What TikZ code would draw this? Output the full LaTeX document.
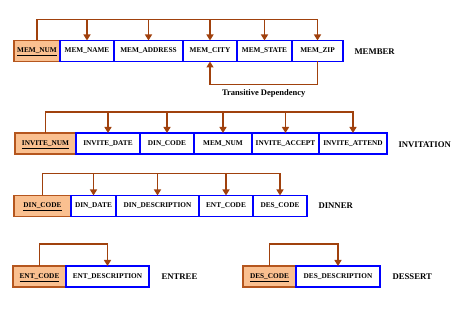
\documentclass[tikz,border=0pt]{standalone}
\usepackage{fontspec}
\setmainfont{Liberation Serif}
\usetikzlibrary{arrows.meta,positioning}
\definecolor{keyfill}{HTML}{FAC090}
\definecolor{keyline}{HTML}{B5561E}
\definecolor{fdline}{HTML}{A0410D}
\definecolor{attrline}{HTML}{0000FF}
\newcommand{\keyname}[1]{\setbox0\hbox{#1}\rlap{\smash{\rule[-3.5pt]{\wd0}{1.2pt}}}\box0}

\begin{document}
\begin{tikzpicture}[x=1pt, y=1pt, >={Triangle[width=7pt,length=6pt]}, font=\fontsize{7.3}{8}\selectfont\bfseries, attr/.style={rectangle, draw=attrline, line width=1.1pt, fill=white, minimum height=21pt, inner sep=1pt, outer sep=0pt}, key/.style={attr, draw=keyline, fill=keyfill}, fd/.style={->, draw=fdline, line width=1.4pt}, tbl/.style={font=\fontsize{8.7}{10}\selectfont\bfseries, right=7pt}]
\useasboundingbox (0,0) rectangle (474,312);
% MEMBER
\node[key, minimum width=46pt] (memnum) at (37,261) {\keyname{MEM\_NUM}};
\node[attr, minimum width=54pt, right=0pt of memnum] (memname) {MEM\_NAME};
\node[attr, minimum width=69pt, right=0pt of memname] (memaddr) {MEM\_ADDRESS};
\node[attr, minimum width=54pt, right=0pt of memaddr] (memcity) {MEM\_CITY};
\node[attr, minimum width=55pt, right=0pt of memcity] (memstate) {MEM\_STATE};
\node[attr, minimum width=51pt, right=0pt of memstate] (memzip) {MEM\_ZIP};
\node[tbl, right=8pt of memzip, yshift=-1pt] (member) {MEMBER};
\draw[fd] (memnum.north) -- ++(0,21) -| (memname.north); \draw[fd] (memnum.north) -- ++(0,21) -| (memaddr.north);
\draw[fd] (memnum.north) -- ++(0,21) -| (memcity.north); \draw[fd] (memnum.north) -- ++(0,21) -| (memstate.north);
\draw[fd] (memnum.north) -- ++(0,21) -| (memzip.north);
\draw[fd] (memzip.south) -- ++(0,-23) -| node[pos=0.25, below=1pt, font=\fontsize{8.5}{10}\selectfont\bfseries] (trans) {Transitive Dependency} (memcity.south);
% INVITATION
\node[key, minimum width=61pt] (invnum) at (45.5,168.5) {\keyname{INVITE\_NUM}};
\node[attr, minimum width=64pt, right=0pt of invnum] (invdate) {INVITE\_DATE};
\node[attr, minimum width=54pt, right=0pt of invdate] (invdin) {DIN\_CODE};
\node[attr, minimum width=58pt, right=0pt of invdin] (invmem) {MEM\_NUM};
\node[attr, minimum width=67pt, right=0pt of invmem] (invacc) {INVITE\_ACCEPT};
\node[attr, minimum width=68pt, right=0pt of invacc] (invatt) {INVITE\_ATTEND};
\node[tbl, right=8pt of invatt, yshift=-1pt] (invitation) {INVITATION};
\draw[fd] (invnum.north) -- ++(0,21) -| (invdate.north); \draw[fd] (invnum.north) -- ++(0,21) -| (invdin.north);
\draw[fd] (invnum.north) -- ++(0,21) -| (invmem.north); \draw[fd] (invnum.north) -- ++(0,21) -| (invacc.north);
\draw[fd] (invnum.north) -- ++(0,21) -| (invatt.north);
% DINNER
\node[key, minimum width=57pt] (dincode) at (42.5,106) {\keyname{DIN\_CODE}};
\node[attr, minimum width=45pt, right=0pt of dincode] (dindate) {DIN\_DATE};
\node[attr, minimum width=83pt, right=0pt of dindate] (dindesc) {DIN\_DESCRIPTION};
\node[attr, minimum width=54pt, right=0pt of dindesc] (dinent) {ENT\_CODE};
\node[attr, minimum width=54pt, right=0pt of dinent] (dindes) {DES\_CODE};
\node[tbl, right=8pt of dindes] (dinner) {DINNER};
\draw[fd] (dincode.north) -- ++(0,22) -| (dindate.north); \draw[fd] (dincode.north) -- ++(0,22) -| (dindesc.north);
\draw[fd] (dincode.north) -- ++(0,22) -| (dinent.north); \draw[fd] (dincode.north) -- ++(0,22) -| (dindes.north);
% ENTREE and DESSERT
\node[key, minimum width=53pt] (entcode) at (39.5,35.5) {\keyname{ENT\_CODE}};
\node[attr, minimum width=83pt, right=0pt of entcode] (entdesc) {ENT\_DESCRIPTION};
\node[tbl, right=9pt of entdesc] (entree) {ENTREE};
\node[key, minimum width=53pt] (descode) at (269.5,35.5) {\keyname{DES\_CODE}};
\node[attr, minimum width=84pt, right=0pt of descode] (desdesc) {DES\_DESCRIPTION};
\node[tbl, right=9pt of desdesc] (dessert) {DESSERT};
\draw[fd] (entcode.north) -- ++(0,22) -| (entdesc.north); \draw[fd] (descode.north) -- ++(0,22) -| (desdesc.north);
\end{tikzpicture}
\end{document}
